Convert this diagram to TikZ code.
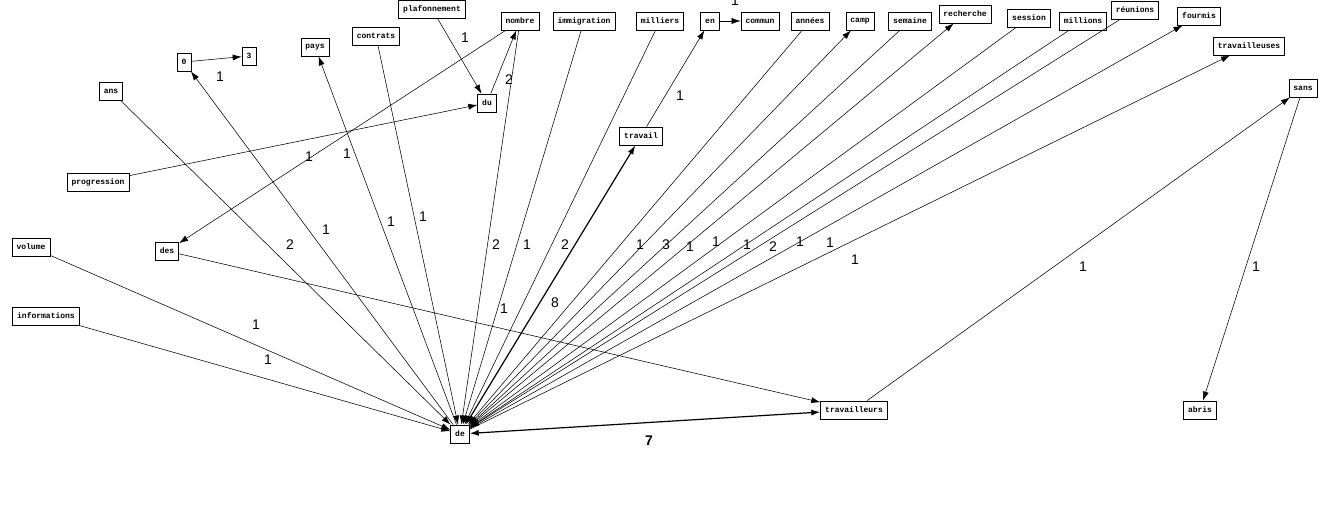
\documentclass[tikz,border=0pt]{standalone}
\usepackage{fontspec}
\setmainfont{Liberation Sans}
\newfontfamily\boxfont{Liberation Mono}
\usetikzlibrary{arrows.meta}
\begin{document}
\begin{tikzpicture}[x=1pt,y=-1pt,
  wn/.style={draw, line width=0.8pt, font=\boxfont\bfseries\fontsize{8}{9}\selectfont,
    inner xsep=4.5pt, inner ysep=0pt, minimum height=18pt},
  ed/.style={line width=0.55pt, -{Latex[length=9pt,width=6pt]}},
  bd/.style={line width=1.2pt, {Latex[length=9pt,width=6pt]}-{Latex[length=9pt,width=6pt]}},
  lb/.style={font=\fontsize{14}{14}\selectfont, inner sep=0pt}]
\useasboundingbox (0,0) rectangle (1330,510);
% nodes
\node[wn] (n0) at (184,62) {0};
\node[wn] (n3) at (249,56) {3};
\node[wn] (ans) at (111,91) {ans};
\node[wn] (pays) at (315,47) {pays};
\node[wn] (contrats) at (376,36) {contrats};
\node[wn] (plaf) at (432,9) {plafonnement};
\node[wn] (nombre) at (520,21) {nombre};
\node[wn] (immig) at (584,21) {immigration};
\node[wn] (milliers) at (660,21) {milliers};
\node[wn] (en) at (710,21) {en};
\node[wn] (commun) at (760,21) {commun};
\node[wn] (annees) at (810,21) {années};
\node[wn] (camp) at (860,21) {camp};
\node[wn] (semaine) at (910,21) {semaine};
\node[wn] (recherche) at (965,14) {recherche};
\node[wn] (session) at (1029,18) {session};
\node[wn] (millions) at (1083,21) {millions};
\node[wn] (reunions) at (1135,10) {réunions};
\node[wn] (fourmis) at (1199,16) {fourmis};
\node[wn] (travailleuses) at (1249,46) {travailleuses};
\node[wn] (sans) at (1303,88) {sans};
\node[wn] (du) at (487,103) {du};
\node[wn] (travail) at (641,136) {travail};
\node[wn] (progression) at (98,182) {progression};
\node[wn] (volume) at (31,247) {volume};
\node[wn] (des) at (167,251) {des};
\node[wn] (informations) at (46,316) {informations};
\node[wn] (de) at (460,434) {de};
\node[wn] (travailleurs) at (854,410) {travailleurs};
\node[wn] (abris) at (1200,410) {abris};
% edges
\draw[ed] (n0) -- (n3);
\draw[ed] (de) -- (n0);
\draw[ed] (ans) -- (de);
\draw[ed] (de) -- (pays);
\draw[ed] (contrats) -- (de);
\draw[ed] (plaf) -- (du);
\draw[ed] (du) -- (nombre);
\draw[ed] (progression) -- (du);
\draw[ed] (nombre) -- (des);
\draw[ed] (nombre) -- (de);
\draw[ed] (immig) -- (de);
\draw[ed] (milliers) -- (de);
\draw[bd] (de) -- (travail);
\draw[ed] (travail) -- (en);
\draw[ed] (en) -- (commun);
\draw[ed] (annees) -- (de);
\draw[ed] (de) -- (camp);
\draw[ed] (semaine) -- (de);
\draw[ed] (de) -- (recherche);
\draw[ed] (session) -- (de);
\draw[ed] (millions) -- (de);
\draw[ed] (reunions) -- (de);
\draw[ed] (de) -- (fourmis);
\draw[ed] (de) -- (travailleuses);
\draw[ed] (des) -- (travailleurs);
\draw[ed] (volume) -- (de);
\draw[ed] (informations) -- (de);
\draw[bd] (de) -- (travailleurs);
\draw[ed] (travailleurs) -- (sans);
\draw[ed] (sans) -- (abris);
% labels
\node[lb] (l1) at (220,77) {1};
\node[lb] (l2) at (326,230) {1};
\node[lb] (l3) at (290,245) {2};
\node[lb] (l4) at (391,222) {1};
\node[lb] (l5) at (423,217) {1};
\node[lb] (l6) at (465,38) {1};
\node[lb] (l7) at (509,80) {2};
\node[lb] (l8) at (309,157) {1};
\node[lb] (l9) at (347,154) {1};
\node[lb] (l10) at (496,245) {2};
\node[lb] (l11) at (527,245) {1};
\node[lb] (l12) at (565,245) {2};
\node[lb] (l13) at (555,303) {8};
\node[lb] (l14) at (680,96) {1};
\node[lb] (l15) at (735,1) {1};
\node[lb] (l16) at (640,245) {1};
\node[lb] (l17) at (666,245) {3};
\node[lb] (l18) at (690,247) {1};
\node[lb] (l19) at (716,242) {1};
\node[lb] (l20) at (747,245) {1};
\node[lb] (l21) at (773,247) {2};
\node[lb] (l22) at (800,242) {1};
\node[lb] (l23) at (830,243) {1};
\node[lb] (l24) at (855,260) {1};
\node[lb] (l25) at (504,309) {1};
\node[lb] (l26) at (256,325) {1};
\node[lb] (l27) at (268,360) {1};
\node[lb, font=\bfseries\fontsize{14}{14}\selectfont] (l28) at (649,441) {7};
\node[lb] (l29) at (1083,267) {1};
\node[lb] (l30) at (1256,267) {1};
\end{tikzpicture}
\end{document}
